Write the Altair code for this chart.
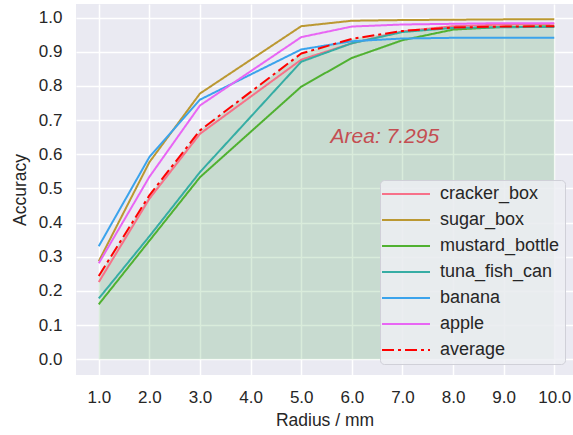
import altair as alt
import pandas as pd

# ---------------- data ----------------
radius = [1, 2, 3, 5, 6, 7, 8, 9, 10]
cracker_box = [0.226, 0.470, 0.660, 0.877, 0.925, 0.960, 0.975, 0.980, 0.982]
sugar_box = [0.287, 0.577, 0.778, 0.975, 0.991, 0.993, 0.994, 0.995, 0.995]
mustard_bottle = [0.161, 0.347, 0.533, 0.798, 0.882, 0.934, 0.965, 0.973, 0.975]
tuna_fish_can = [0.178, 0.360, 0.548, 0.871, 0.925, 0.958, 0.970, 0.972, 0.973]
banana = [0.331, 0.592, 0.760, 0.907, 0.931, 0.939, 0.941, 0.941, 0.941]
apple = [0.281, 0.534, 0.743, 0.943, 0.974, 0.980, 0.982, 0.984, 0.984]
average = [0.244, 0.480, 0.670, 0.895, 0.938, 0.961, 0.971, 0.974, 0.975]

series_names = ["cracker_box", "sugar_box", "mustard_bottle", "tuna_fish_can",
                "banana", "apple", "average"]
series_values = [cracker_box, sugar_box, mustard_bottle, tuna_fish_can,
                 banana, apple, average]
series_colors = ["#f77189", "#bb9832", "#50b131", "#36ada4", "#3ba3ec", "#e866f4", "#ff0000"]
series_widths = [2, 2, 2, 2, 2, 2, 3]
series_dashes = [[1, 0]] * 6 + [[12, 4, 3, 4]]

x_ticks = [1, 2, 3, 4, 5, 6, 7, 8, 9, 10]
y_ticks = [0.0, 0.1, 0.2, 0.3, 0.4, 0.5, 0.6, 0.7, 0.8, 0.9, 1.0]
area_label = ["Area: 7.295"]
area_label_x = [5.58]
area_label_y = [0.65]

# ---------------- tables ----------------
rows = []
for name, vals in zip(series_names, series_values):
    for r, v in zip(radius, vals):
        rows.append({"radius": r, "accuracy": v, "series": name})
df = pd.DataFrame(rows)
avg_df = pd.DataFrame({"radius": radius, "accuracy": average})
txt_df = pd.DataFrame({"x": area_label_x, "y": area_label_y, "label": area_label})

FONT = "Liberation Sans"
TXT = "#262626"

xscale = alt.Scale(domain=[0.55, 10.37], nice=False, zero=False)
yscale = alt.Scale(domain=[-0.046, 1.04], nice=False, zero=False)

xaxis = alt.Axis(values=x_ticks, format=".1f", title="Radius / mm", grid=True,
                 ticks=False, domain=False, labelPadding=14, titlePadding=6,
                 labelFontSize=17, titleFontSize=17.5, labelColor=TXT,
                 titleColor=TXT, titleFontWeight="normal", labelFlush=False,
                 labelOverlap=False)
yaxis = alt.Axis(values=y_ticks, format=".1f", title="Accuracy", grid=True,
                 ticks=False, domain=False, labelPadding=14, titlePadding=9,
                 labelFontSize=17, titleFontSize=17.5, labelColor=TXT,
                 titleColor=TXT, titleFontWeight="normal", labelOverlap=False,
                 tickCount=11)

leg = alt.Legend(title=None, orient="none", legendX=304, legendY=176)

fill = alt.Chart(avg_df).mark_area(color="#3f9f4a", opacity=0.2).encode(
    x=alt.X("radius:Q", scale=xscale, axis=xaxis),
    y=alt.Y("accuracy:Q", scale=yscale, axis=yaxis),
    y2=alt.datum(0),
)

lines = alt.Chart(df).mark_line(strokeCap="butt", strokeJoin="round").encode(
    x=alt.X("radius:Q", scale=xscale, axis=xaxis),
    y=alt.Y("accuracy:Q", scale=yscale, axis=yaxis),
    color=alt.Color("series:N", scale=alt.Scale(domain=series_names, range=series_colors), legend=leg),
    strokeDash=alt.StrokeDash("series:N", scale=alt.Scale(domain=series_names, range=series_dashes), legend=leg),
    strokeWidth=alt.StrokeWidth("series:N", scale=alt.Scale(domain=series_names, range=series_widths), legend=leg),
)

text = alt.Chart(txt_df).mark_text(align="left", baseline="middle", fontStyle="italic",
                                   fontSize=21, color="#c44e52", font=FONT).encode(
    x=alt.X("x:Q", scale=xscale),
    y=alt.Y("y:Q", scale=yscale),
    text="label:N",
)

chart = alt.layer(fill, lines, text).properties(
    width=497, height=371,
    padding={"left": 76, "top": 4, "right": 0, "bottom": 60},
    autosize="none",
    background="white",
).configure(font=FONT).configure_view(
    fill="#EAEAF2", stroke=None
).configure_axis(
    gridColor="white", gridWidth=1.5, labelFont=FONT, titleFont=FONT
).configure_legend(
    symbolType="M-3,0H3", symbolSize=256, symbolOffset=12, labelOffset=25,
    labelFontSize=18, labelColor=TXT, labelFont=FONT,
    padding=5, rowPadding=8, fillColor="rgba(237,238,243,0.85)",
    strokeColor="#d0d0d8", cornerRadius=4, symbolStrokeWidth=2,
)

chart.save("out.html", embed_options={"renderer": "svg", "actions": False})
